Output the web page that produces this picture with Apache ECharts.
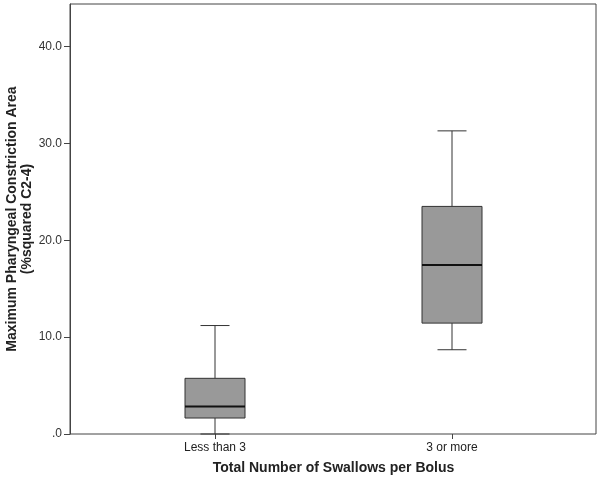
<!DOCTYPE html>
<html>
<head>
<meta charset="utf-8">
<style>
  html, body { margin: 0; padding: 0; background: #fff; }
  #chart { width: 600px; height: 482px; }
</style>
<script src="https://cdn.jsdelivr.net/npm/echarts@6/dist/echarts.min.js"></script>
</head>
<body>
<div id="chart"></div>
<script>
var categories = ['Less than 3', '3 or more'];
var whiskerLow = [0, 8.7];
var q1 = [1.65, 11.45];
var median = [2.85, 17.45];
var q3 = [5.75, 23.5];
var whiskerHigh = [11.2, 31.3];
var yTicks = [0, 10, 20, 30, 40];
var yMax = 44.4;

var font = "'Liberation Sans', Arial, sans-serif";
var lineColor = '#444';

var boxData = categories.map(function (c, i) {
  return [i, whiskerLow[i], q1[i], median[i], q3[i], whiskerHigh[i]];
});

function renderBox(params, api) {
  var x = api.value(0);
  var pLow = api.coord([x, api.value(1)]);
  var pQ1 = api.coord([x, api.value(2)]);
  var pMed = api.coord([x, api.value(3)]);
  var pQ3 = api.coord([x, api.value(4)]);
  var pHigh = api.coord([x, api.value(5)]);
  var cx = pMed[0];
  var half = 30;
  var cap = 14.5;
  var ls = { stroke: '#333', lineWidth: 1 };
  return {
    type: 'group',
    children: [
      { type: 'line', shape: { x1: cx, y1: pHigh[1], x2: cx, y2: pQ3[1] }, style: ls },
      { type: 'line', shape: { x1: cx, y1: pQ1[1], x2: cx, y2: pLow[1] }, style: ls },
      { type: 'line', shape: { x1: cx - cap, y1: pHigh[1], x2: cx + cap, y2: pHigh[1] }, style: ls },
      { type: 'line', shape: { x1: cx - cap, y1: pLow[1], x2: cx + cap, y2: pLow[1] }, style: ls },
      { type: 'rect', shape: { x: cx - half, y: pQ3[1], width: half * 2, height: pQ1[1] - pQ3[1] },
        style: { fill: '#999999', stroke: '#333', lineWidth: 1 } },
      { type: 'line', shape: { x1: cx - half, y1: pMed[1], x2: cx + half, y2: pMed[1] },
        style: { stroke: '#111', lineWidth: 2 } }
    ]
  };
}

var chart = echarts.init(document.getElementById('chart'));
chart.setOption({
  animation: false,
  textStyle: { fontFamily: font },
  grid: [
    { left: 70, right: 4, top: 4, bottom: 48, show: true, borderColor: lineColor, borderWidth: 1,
      outerBoundsMode: 'none', containLabel: false },
    { left: 96.5, right: 29.5, top: 4, bottom: 48, outerBoundsMode: 'none', containLabel: false }
  ],
  xAxis: [
    { gridIndex: 0, type: 'value', show: false, min: 0, max: 1 },
    {
      gridIndex: 1, type: 'category', data: categories, boundaryGap: true,
      axisLine: { show: false },
      axisTick: { show: true, alignWithLabel: true, length: 5, lineStyle: { color: lineColor } },
      axisLabel: { color: '#222', fontSize: 12, margin: 8, fontFamily: font },
      name: 'Total Number of Swallows per Bolus',
      nameLocation: 'middle', nameGap: 27,
      nameTextStyle: { fontSize: 14, fontWeight: 'bold', color: '#222', fontFamily: font }
    }
  ],
  yAxis: [
    {
      gridIndex: 0, type: 'value', min: 0, max: yMax,
      axisLine: { show: true, lineStyle: { color: lineColor } },
      axisTick: { show: true, length: 6, customValues: yTicks, lineStyle: { color: lineColor } },
      axisLabel: {
        color: '#333', fontSize: 12, margin: 8, fontFamily: font, customValues: yTicks,
        formatter: function (v) { return v === 0 ? '.0' : v.toFixed(1); }
      },
      splitLine: { show: false },
      name: 'Maximum Pharyngeal Constriction Area\n(%squared C2-4)',
      nameLocation: 'middle', nameGap: 35, nameMoveOverlap: false,
      nameTextStyle: { fontSize: 14, fontWeight: 'bold', color: '#222', lineHeight: 15, fontFamily: font }
    },
    { gridIndex: 1, type: 'value', min: 0, max: yMax, show: false }
  ],
  series: [{
    type: 'custom',
    xAxisIndex: 1,
    yAxisIndex: 1,
    renderItem: renderBox,
    encode: { x: 0, y: [1, 2, 3, 4, 5] },
    data: boxData,
    z: 3
  }]
});
</script>
</body>
</html>
